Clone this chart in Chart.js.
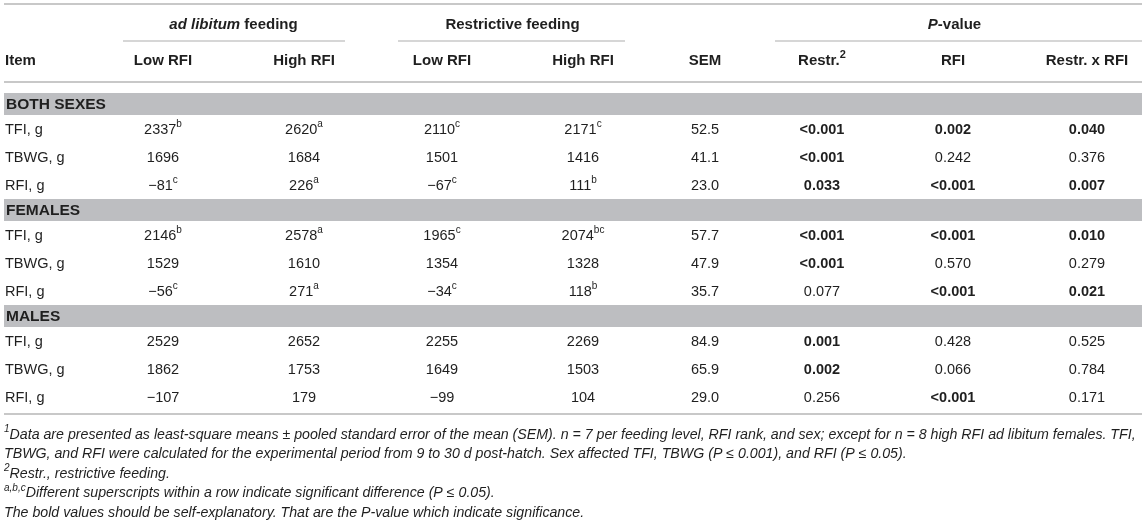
<!DOCTYPE html>
<html>
<head>
<meta charset="utf-8">
<script src="https://cdn.jsdelivr.net/npm/chart.js@4.4.1/dist/chart.umd.min.js"></script>
<style>
  html, body { margin: 0; padding: 0; background: #fff; }
  #wrap { width: 1145px; height: 528px; position: relative; }
</style>
</head>
<body>
<div id="wrap"><canvas id="tableChart"></canvas></div>
<script>
// ---- table data ----
const groups = ['BOTH SEXES', 'FEMALES', 'MALES'];
const items = ['TFI, g', 'TBWG, g', 'RFI, g'];

const adLowRFI   = [2337, 1696, -81, 2146, 1529, -56, 2529, 1862, -107];
const adHighRFI  = [2620, 1684, 226, 2578, 1610, 271, 2652, 1753, 179];
const resLowRFI  = [2110, 1501, -67, 1965, 1354, -34, 2255, 1649, -99];
const resHighRFI = [2171, 1416, 111, 2074, 1328, 118, 2269, 1503, 104];
const sem        = [52.5, 41.1, 23.0, 57.7, 47.9, 35.7, 84.9, 65.9, 29.0];

const supAdLow   = ['b', '', 'c', 'b', '', 'c', '', '', ''];
const supAdHigh  = ['a', '', 'a', 'a', '', 'a', '', '', ''];
const supResLow  = ['c', '', 'c', 'c', '', 'c', '', '', ''];
const supResHigh = ['c', '', 'b', 'bc', '', 'b', '', '', ''];

const pRestr = ['<0.001', '<0.001', '0.033', '<0.001', '<0.001', '0.077', '0.001', '0.002', '0.256'];
const pRFI   = ['0.002', '0.242', '<0.001', '<0.001', '0.570', '<0.001', '0.428', '0.066', '<0.001'];
const pInter = ['0.040', '0.376', '0.007', '0.010', '0.279', '0.021', '0.525', '0.784', '0.171'];

const colHeaders = ['Low RFI', 'High RFI', 'Low RFI', 'High RFI', 'SEM', 'Restr.', 'RFI', 'Restr. x RFI'];

const footnotes = [
    [['1', 'isup'], ['Data are presented as least-square means \u00b1 pooled standard error of the mean (SEM). n = 7 per feeding level, RFI rank, and sex; except for n = 8 high RFI ad libitum females. TFI,', 'it']],
    [['TBWG, and RFI were calculated for the experimental period from 9 to 30 d post-hatch. Sex affected TFI, TBWG (P \u2264 0.001), and RFI (P \u2264 0.05).', 'it']],
    [['2', 'isup'], ['Restr., restrictive feeding.', 'it']],
    [['a,b,c', 'isup'], ['Different superscripts within a row indicate significant difference (P \u2264 0.05).', 'it']],
    [['The bold values should be self-explanatory. That are the P-value which indicate significance.', 'it']]
];

// ---- layout ----
const W = 1145, H = 528;
const FONT = '"Liberation Sans", Arial, sans-serif';
const TEXT = '#1f1f1f';
const RULE = '#c8c8c8';
const BAND = '#bdbec1';
const colX = [163, 304, 442, 583, 705, 822, 953, 1087];
const left = 4, right = 1142;
const bandH = 22, rowH = 28;
const bodyTop = 93;

function fmt(n) {
    return n < 0 ? '\u2212' + Math.abs(n) : String(n);
}
function isSig(p) {
    return p.startsWith('<') || parseFloat(p) <= 0.05;
}

function fontFor(st, sz) {
    const small = Math.round(sz * 0.7);
    if (st === 'b') return 'bold ' + sz + 'px ' + FONT;
    if (st === 'bi') return 'italic bold ' + sz + 'px ' + FONT;
    if (st === 'it') return 'italic ' + sz + 'px ' + FONT;
    if (st === 'bsup') return 'bold ' + small + 'px ' + FONT;
    if (st === 'isup') return 'italic ' + small + 'px ' + FONT;
    if (st === 'sup') return small + 'px ' + FONT;
    return sz + 'px ' + FONT;
}

// draws a list of [text, style] runs; align 'left' or 'center'
function drawRuns(ctx, runs, x, y, size, align) {
    let total = 0;
    runs.forEach(r => { ctx.font = fontFor(r[1], size); total += ctx.measureText(r[0]).width; });
    let cx = align === 'center' ? x - total / 2 : x;
    ctx.textAlign = 'left';
    ctx.textBaseline = 'middle';
    runs.forEach(r => {
        ctx.font = fontFor(r[1], size);
        const up = r[1].endsWith('sup') ? -size * 0.38 : 0;
        ctx.fillText(r[0], cx, y + up);
        cx += ctx.measureText(r[0]).width;
    });
}

const tablePlugin = {
    id: 'tableDraw',
    afterDatasetsDraw(chart) {
        const ctx = chart.ctx;
        const xs = chart.scales.x, ys = chart.scales.y;
        const px = v => xs.getPixelForValue(v);
        const py = v => ys.getPixelForValue(v);
        ctx.save();

        const rule = (x0, x1, y, w) => {
            ctx.strokeStyle = RULE;
            ctx.lineWidth = w;
            ctx.beginPath();
            ctx.moveTo(px(x0), py(y));
            ctx.lineTo(px(x1), py(y));
            ctx.stroke();
        };

        // header
        ctx.fillStyle = TEXT;
        rule(left, right, 4, 2);
        drawRuns(ctx, [['ad libitum', 'bi'], [' feeding', 'b']], px((colX[0] + colX[1]) / 2), py(25), 15, 'center');
        drawRuns(ctx, [['Restrictive feeding', 'b']], px((colX[2] + colX[3]) / 2), py(25), 15, 'center');
        drawRuns(ctx, [['P', 'bi'], ['-value', 'b']], px((colX[5] + colX[7]) / 2), py(25), 15, 'center');
        rule(colX[0] - 40, colX[1] + 41, 41, 1.5);
        rule(colX[2] - 44, colX[3] + 42, 41, 1.5);
        rule(colX[5] - 47, right, 41, 1.5);

        drawRuns(ctx, [['Item', 'b']], px(left + 1), py(61), 15, 'left');
        colHeaders.forEach((h, i) => {
            const runs = i === 5 ? [[h, 'b'], ['2', 'bsup']] : [[h, 'b']];
            drawRuns(ctx, runs, px(colX[i]), py(61), 15, 'center');
        });
        rule(left, right, 82, 2);

        // body
        let y = bodyTop;
        groups.forEach((g, gi) => {
            ctx.fillStyle = BAND;
            ctx.fillRect(px(left), py(y), px(right) - px(left), py(y + bandH) - py(y));
            ctx.fillStyle = TEXT;
            drawRuns(ctx, [[g, 'b']], px(left + 2), py(y + bandH / 2 + 1), 15.5, 'left');
            y += bandH;
            items.forEach((it, ii) => {
                const r = gi * 3 + ii;
                const cy = py(y + rowH / 2 + 1);
                const cell = (v, sup) => sup ? [[v, ''], [sup, 'sup']] : [[v, '']];
                const pcell = p => [[p, isSig(p) ? 'b' : '']];
                drawRuns(ctx, [[it, '']], px(left + 1), cy, 14.5, 'left');
                drawRuns(ctx, cell(fmt(adLowRFI[r]), supAdLow[r]), px(colX[0]), cy, 14.5, 'center');
                drawRuns(ctx, cell(fmt(adHighRFI[r]), supAdHigh[r]), px(colX[1]), cy, 14.5, 'center');
                drawRuns(ctx, cell(fmt(resLowRFI[r]), supResLow[r]), px(colX[2]), cy, 14.5, 'center');
                drawRuns(ctx, cell(fmt(resHighRFI[r]), supResHigh[r]), px(colX[3]), cy, 14.5, 'center');
                drawRuns(ctx, cell(sem[r].toFixed(1), ''), px(colX[4]), cy, 14.5, 'center');
                drawRuns(ctx, pcell(pRestr[r]), px(colX[5]), cy, 14.5, 'center');
                drawRuns(ctx, pcell(pRFI[r]), px(colX[6]), cy, 14.5, 'center');
                drawRuns(ctx, pcell(pInter[r]), px(colX[7]), cy, 14.5, 'center');
                y += rowH;
            });
        });
        rule(left, right, y + 3, 2);

        // footnotes
        let fy = y + 24;
        footnotes.forEach(line => {
            drawRuns(ctx, line, px(left), py(fy), 14.2, 'left');
            fy += 19.5;
        });
        ctx.restore();
    }
};

const canvas = document.querySelector('#tableChart');
new Chart(canvas, {
    type: 'scatter',
    data: { datasets: [{ data: [], pointRadius: 0 }] },
    options: {
        responsive: true,
        maintainAspectRatio: false,
        animation: false,
        layout: { padding: 0 },
        plugins: { legend: { display: false }, tooltip: { enabled: false } },
        scales: {
            x: { type: 'linear', min: 0, max: W, display: false },
            y: { type: 'linear', min: 0, max: H, reverse: true, display: false }
        }
    },
    plugins: [tablePlugin]
});
</script>
</body>
</html>
